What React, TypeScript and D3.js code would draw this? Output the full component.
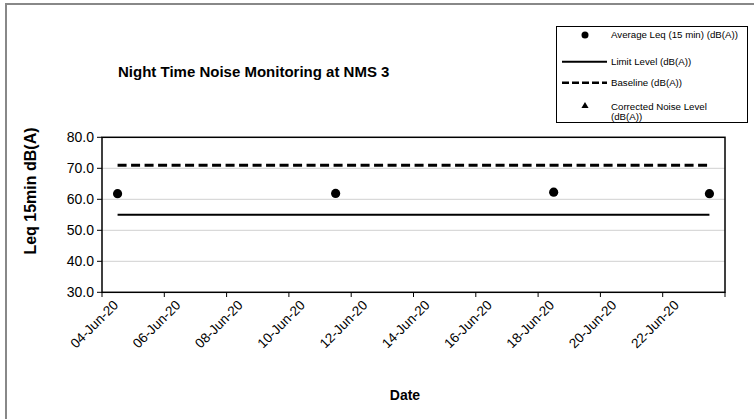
import React from "react";
import * as d3 from "d3";

const dates = ["2020-06-04", "2020-06-11", "2020-06-18", "2020-06-23"];
const averageLeq = [61.8, 61.9, 62.3, 61.8];
const limitLevel = [55, 55, 55, 55];
const baseline = [71.0, 71.0, 71.0, 71.0];
const yTicks = [30, 40, 50, 60, 70, 80];
const xTickLabels = ["04-Jun-20", "06-Jun-20", "08-Jun-20", "10-Jun-20", "12-Jun-20", "14-Jun-20", "16-Jun-20", "18-Jun-20", "20-Jun-20", "22-Jun-20"];
const legendLabels = ["Average Leq (15 min) (dB(A))", "Limit Level (dB(A))", "Baseline (dB(A))", "Corrected Noise Level", "(dB(A))"];

const W = 754;
const H = 419;
const FONT = "'Liberation Sans', Arial, sans-serif";
const DAY = 86400000;

export default function App() {
  const parse = d3.utcParse("%Y-%m-%d");
  const dts = dates.map((d) => parse(d) as Date);
  const start = parse("2020-06-04") as Date;
  const end = parse("2020-06-24") as Date;
  const x = d3.scaleUtc().domain([start, end]).range([102, 725]);
  const y = d3.scaleLinear().domain([30, 80]).range([292.3, 137.3]);
  const mid = (d: Date) => x(new Date(d.getTime() + DAY / 2));
  const ticks = d3.utcDay.range(start, new Date(end.getTime() + 1), 2);

  const lineGen = d3
    .line<number>()
    .x((_, i) => mid(dts[i]))
    .y((v) => y(v));

  const tri = d3.symbol().type(d3.symbolTriangle).size(22)();

  return (
    <svg width={W} height={H} style={{ position: "absolute", left: 0, top: 0, background: "#fff" }} fontFamily={FONT}>
      <rect x={6} y={4} width={800} height={500} fill="#fff" stroke="#888" strokeWidth={2} />
      <text x={118} y={77} fontSize={15} fontWeight="bold">
        Night Time Noise Monitoring at NMS 3
      </text>

      {/* gridlines */}
      {yTicks.slice(1, -1).map((t) => (
        <line key={t} x1={102} x2={725} y1={y(t)} y2={y(t)} stroke="#d9d9d9" strokeWidth={1.2} />
      ))}

      {/* plot border */}
      <rect x={102} y={y(80)} width={623} height={y(30) - y(80)} fill="none" stroke="#000" strokeWidth={1.5} />

      {/* y ticks */}
      {yTicks.map((t) => (
        <g key={t}>
          <line x1={97} x2={102} y1={y(t)} y2={y(t)} stroke="#000" strokeWidth={1} />
          <text x={94} y={y(t)} dy="0.35em" textAnchor="end" fontSize={14}>
            {t.toFixed(1)}
          </text>
        </g>
      ))}

      {/* x ticks */}
      {ticks.map((t, i) => (
        <line key={i} x1={x(t)} x2={x(t)} y1={292.3} y2={297} stroke="#000" strokeWidth={1} />
      ))}
      {xTickLabels.map((lab, i) => {
        const px = x(ticks[i]) + 17;
        const py = 306;
        return (
          <text key={lab} x={px} y={py} textAnchor="end" fontSize={13.5} transform={`rotate(-45 ${px} ${py})`}>
            {lab}
          </text>
        );
      })}

      {/* series */}
      <path d={lineGen(limitLevel) || ""} fill="none" stroke="#000" strokeWidth={2} />
      <path d={lineGen(baseline) || ""} fill="none" stroke="#000" strokeWidth={3} strokeDasharray="9,4.5" />
      {averageLeq.map((v, i) => (
        <circle key={i} cx={mid(dts[i])} cy={y(v)} r={4.6} fill="#000" />
      ))}

      {/* axis titles */}
      <text x={405} y={400} textAnchor="middle" fontSize={14} fontWeight="bold">
        Date
      </text>
      <text transform={`translate(36 191) rotate(-90)`} textAnchor="middle" fontSize={16} fontWeight="bold">
        Leq 15min dB(A)
      </text>

      {/* legend */}
      <rect x={556.5} y={26.5} width={191} height={96} fill="#fff" stroke="#000" strokeWidth={1} />
      <circle cx={585} cy={35} r={3.5} fill="#000" />
      <line x1={562} x2={607} y1={61.7} y2={61.7} stroke="#000" strokeWidth={2} />
      <line x1={562} x2={607} y1={82.7} y2={82.7} stroke="#000" strokeWidth={2.5} strokeDasharray="7,3" />
      <path d={tri || ""} transform="translate(585 106)" fill="#000" />
      <g fontSize={9.7}>
        <text x={611} y={35} dy="0.35em">{legendLabels[0]}</text>
        <text x={611} y={61.7} dy="0.35em">{legendLabels[1]}</text>
        <text x={611} y={82.7} dy="0.35em">{legendLabels[2]}</text>
        <text x={611} y={106.5} dy="0.35em">{legendLabels[3]}</text>
        <text x={611} y={117} dy="0.35em">{legendLabels[4]}</text>
      </g>
    </svg>
  );
}
